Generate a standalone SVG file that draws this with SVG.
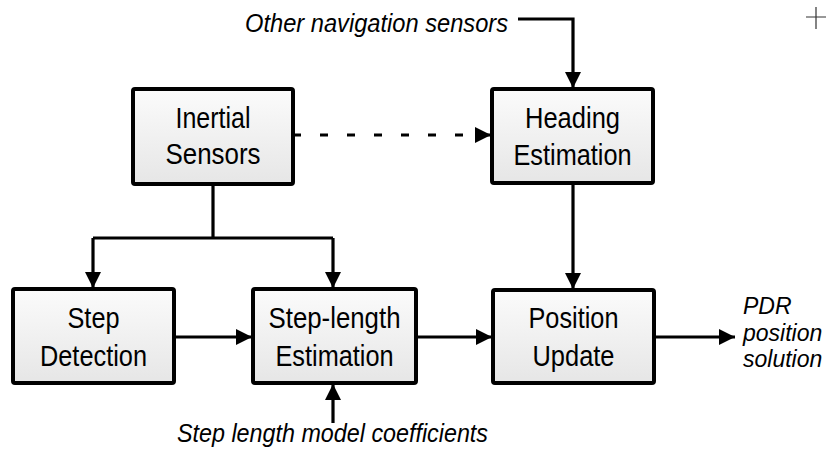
<svg xmlns="http://www.w3.org/2000/svg" width="827" height="450" viewBox="0 0 827 450">
<style>
.box{fill:url(#g);stroke:#000;stroke-width:4}
.t{font-family:"Liberation Sans",Arial,sans-serif;font-size:30px;fill:#000;text-anchor:middle}
.i{font-family:"Liberation Sans",Arial,sans-serif;font-size:26px;font-style:italic;fill:#000}
.o{font-size:23px}
.c{fill:none;stroke:#000;stroke-width:3.2}
</style>
<defs>
<linearGradient id="g" x1="0" y1="0" x2="0" y2="1">
<stop offset="0" stop-color="#fbfbfb"/>
<stop offset="1" stop-color="#e6e6e6"/>
</linearGradient>
<marker id="a" markerUnits="userSpaceOnUse" markerWidth="16" markerHeight="16" refX="16" refY="8" orient="auto">
<path d="M0,0 L16,8 L0,16 z" fill="#000"/>
</marker>
</defs>
<g id="connectors">
<path class="c" d="M213,184 V238 M93,238 H333"/>
<path class="c" d="M93,238 V288" marker-end="url(#a)"/>
<path class="c" d="M333,238 V288" marker-end="url(#a)"/>
<path class="c" d="M293,135 H491" stroke-dasharray="8 19" marker-end="url(#a)"/>
<path class="c" d="M518,19 H573 V88" marker-end="url(#a)"/>
<path class="c" d="M573,183 V289" marker-end="url(#a)"/>
<path class="c" d="M174,337 H252" marker-end="url(#a)"/>
<path class="c" d="M416,337 H492" marker-end="url(#a)"/>
<path class="c" d="M654,337 H735" marker-end="url(#a)"/>
<path class="c" d="M333,423 V384" marker-end="url(#a)"/>
</g>
<g id="inertial">
<rect class="box" x="133" y="89" width="160" height="95" rx="2"/>
<text class="t" x="213" y="128" textLength="75" lengthAdjust="spacingAndGlyphs">Inertial</text>
<text class="t" x="213" y="164" textLength="95" lengthAdjust="spacingAndGlyphs">Sensors</text>
</g>
<g id="heading">
<rect class="box" x="492" y="89" width="161" height="94" rx="2"/>
<text class="t" x="572.5" y="128" textLength="95" lengthAdjust="spacingAndGlyphs">Heading</text>
<text class="t" x="572.5" y="165" textLength="118" lengthAdjust="spacingAndGlyphs">Estimation</text>
</g>
<g id="stepdetection">
<rect class="box" x="13" y="289" width="161" height="94" rx="2"/>
<text class="t" x="93.5" y="328" textLength="52" lengthAdjust="spacingAndGlyphs">Step</text>
<text class="t" x="93.5" y="366" textLength="107" lengthAdjust="spacingAndGlyphs">Detection</text>
</g>
<g id="steplength">
<rect class="box" x="253" y="289" width="163" height="94" rx="2"/>
<text class="t" x="334.5" y="328" textLength="132" lengthAdjust="spacingAndGlyphs">Step-length</text>
<text class="t" x="334.5" y="366" textLength="118" lengthAdjust="spacingAndGlyphs">Estimation</text>
</g>
<g id="position">
<rect class="box" x="493" y="290" width="161" height="93" rx="2"/>
<text class="t" x="573.5" y="328" textLength="90" lengthAdjust="spacingAndGlyphs">Position</text>
<text class="t" x="573.5" y="366" textLength="82" lengthAdjust="spacingAndGlyphs">Update</text>
</g>
<g id="labels">
<text class="i" x="245" y="32" textLength="263" lengthAdjust="spacingAndGlyphs">Other navigation sensors</text>
<text class="i" x="177" y="442" textLength="311" lengthAdjust="spacingAndGlyphs">Step length model coefficients</text>
<text class="i o" x="743" y="314">PDR</text>
<text class="i o" x="743" y="341">position</text>
<text class="i o" x="743" y="367">solution</text>
</g>
<path d="M806,17 H826 M816,7 V29" stroke="#333" stroke-width="1.2" fill="none"/>
</svg>
